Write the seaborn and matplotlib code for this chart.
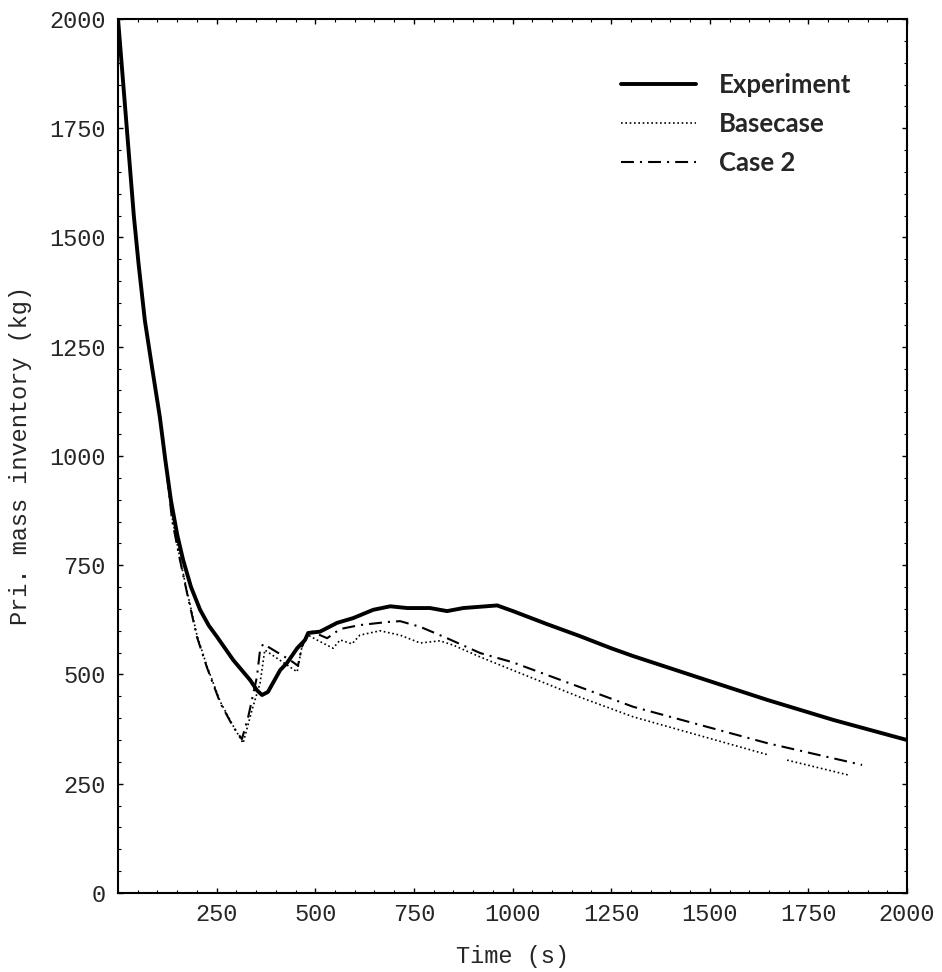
import numpy as np
import pandas as pd
import matplotlib
matplotlib.use("Agg")
import matplotlib.pyplot as plt
import seaborn as sns
from matplotlib.ticker import MultipleLocator, FixedLocator

# ---- data ----
t_exp = [0, 20, 40, 52, 68, 86, 106, 120, 134, 150, 165, 185, 208, 230, 251, 292, 335, 352, 365, 380,
         411, 428, 454, 474, 482, 512, 555, 596, 647, 690, 733, 791, 834, 875, 918, 961,
         1001, 1088, 1170, 1250, 1306, 1475, 1645, 1813, 2000]
v_exp = [2000, 1775, 1550, 1440, 1310, 1204, 1089, 990, 899, 820, 762, 700, 648, 612, 586, 533, 487, 464, 453, 460,
         510, 526, 560, 579, 595, 598, 618, 629, 648, 656, 652, 652, 645, 652, 655, 658,
         645, 615, 588, 560, 542, 492, 442, 396, 350]

t_base = [0, 20, 40, 52, 68, 86, 106, 120, 137, 157, 175, 200, 225, 259, 292, 317, 340, 360, 372,
          454, 466, 482, 504, 545, 563, 593, 613, 664, 715, 766, 816, 850, 918, 1000, 1171,
          1306, 1648]
v_base = [2000, 1775, 1550, 1440, 1310, 1204, 1089, 990, 860, 765, 690, 590, 520, 438, 382, 343, 420, 480, 556,
          506, 563, 590, 579, 560, 579, 570, 590, 600, 590, 572, 577, 567, 540, 510, 448,
          403, 316]
t_base_tail = [1696, 1851]
v_base_tail = [304, 270]

t_c2 = [0, 20, 40, 52, 68, 86, 106, 120, 137, 157, 175, 200, 225, 259, 292, 314, 330, 352, 360, 368,
        436, 456, 466, 479, 492, 530, 563, 613, 682, 715, 766, 834, 918, 1000, 1171, 1306,
        1645, 1886]
v_c2 = [2000, 1775, 1550, 1440, 1310, 1204, 1089, 990, 853, 762, 686, 586, 517, 435, 380, 352, 403, 494, 556, 570,
        533, 520, 563, 590, 598, 583, 604, 613, 620, 622, 609, 583, 549, 528, 471, 426,
        343, 293]

labels = ["Experiment", "Basecase", "Case 2"]
x_ticks = [250, 500, 750, 1000, 1250, 1500, 1750, 2000]
y_ticks = [0, 250, 500, 750, 1000, 1250, 1500, 1750, 2000]

# ---- build frames ----
df_exp = pd.DataFrame({"t": t_exp, "m": v_exp, "seg": 0})
df_base = pd.concat([
    pd.DataFrame({"t": t_base, "m": v_base, "seg": 0}),
    pd.DataFrame({"t": t_base_tail, "m": v_base_tail, "seg": 1}),
], ignore_index=True)
df_c2 = pd.DataFrame({"t": t_c2, "m": v_c2, "seg": 0})

sns.set_style("ticks")
mono = ["Liberation Mono", "DejaVu Sans Mono"]
plt.rcParams["font.family"] = mono

fig = plt.figure(figsize=(9.42, 9.72), dpi=100)
ax = fig.add_axes([0.1253, 0.0813, 0.8376, 0.8992])

ls_c2 = (0, (6.2, 2.9, 1.0, 2.9))
ls_base = (0, (1.0, 1.6))

sns.lineplot(data=df_c2, x="t", y="m", units="seg", estimator=None, ax=ax,
             color="black", lw=1.5, linestyle=ls_c2, sort=False)
sns.lineplot(data=df_base, x="t", y="m", units="seg", estimator=None, ax=ax,
             color="black", lw=1.2, linestyle=ls_base, sort=False)
sns.lineplot(data=df_exp, x="t", y="m", units="seg", estimator=None, ax=ax,
             color="black", lw=2.8, sort=False)

ax.set_xlim(0, 2000)
ax.set_ylim(0, 2000)
ax.xaxis.set_major_locator(FixedLocator(x_ticks))
ax.yaxis.set_major_locator(FixedLocator(y_ticks))
ax.xaxis.set_minor_locator(MultipleLocator(50))
ax.yaxis.set_minor_locator(MultipleLocator(50))
ax.tick_params(which="both", direction="in", top=True, right=True, color="black")
ax.tick_params(which="major", length=3.8, width=1.0, labelsize=17, pad=7)
ax.tick_params(which="minor", length=2.0, width=0.8)
ax.tick_params(axis="y", which="major", pad=9)
for sp in ax.spines.values():
    sp.set_linewidth(1.5)
    sp.set_color("black")

ax.set_xlabel("Time (s)", fontsize=17, labelpad=14)
ax.set_ylabel("Pri. mass inventory (kg)", fontsize=17, labelpad=12)

h_exp = plt.Line2D([], [], color="black", lw=2.8)
h_base = plt.Line2D([], [], color="black", lw=1.2, linestyle=ls_base)
h_c2 = plt.Line2D([], [], color="black", lw=1.5, linestyle=ls_c2)
leg = ax.legend([h_exp, h_base, h_c2], labels, loc="upper left",
                bbox_to_anchor=(0.6375, 0.938), frameon=False,
                borderpad=0, borderaxespad=0, handlelength=2.92, handletextpad=0.88,
                labelspacing=0.58,
                prop={"family": ["Lato", "DejaVu Sans"], "weight": "bold", "size": 18.5})

fig.savefig("out.png", dpi=100)
